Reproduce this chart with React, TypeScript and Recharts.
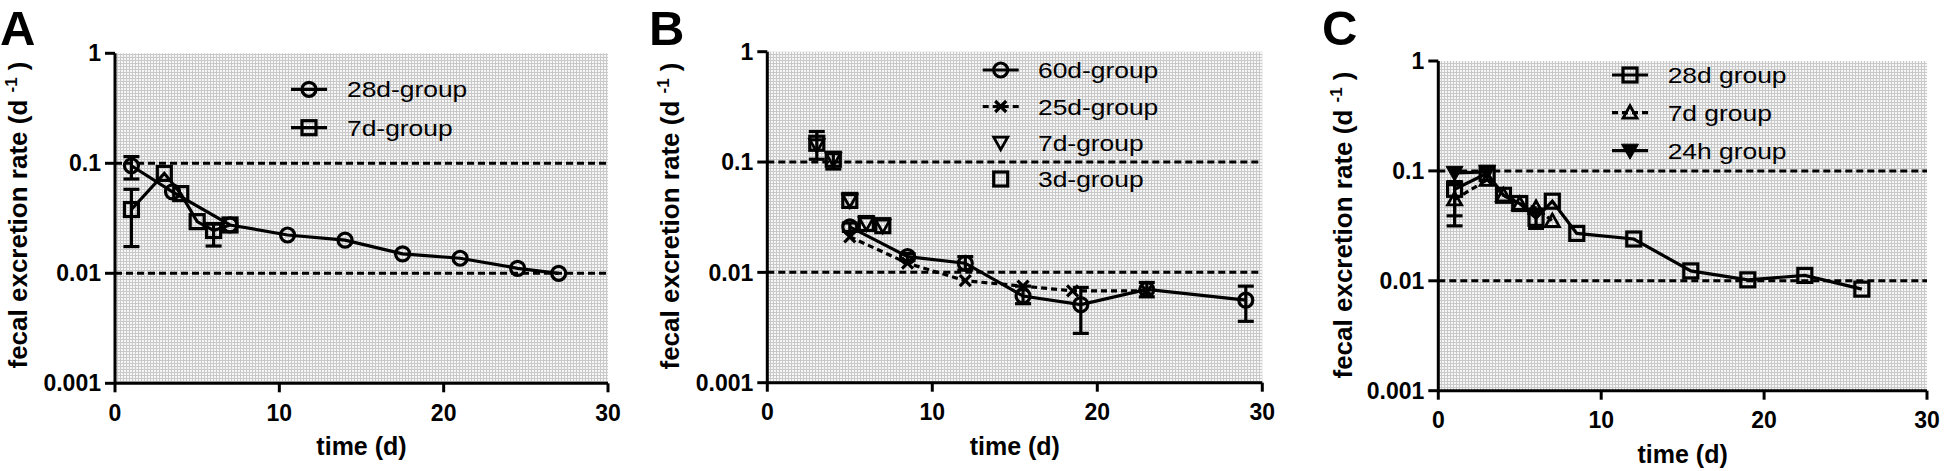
import React from 'react';
import { LineChart, Line, XAxis, YAxis, CartesianGrid, ReferenceLine, ErrorBar, Legend } from 'recharts';

const FONT = '"Liberation Sans", Arial, Helvetica, sans-serif';

// ---------- shared axis values ----------
const xTicks = [0, 10, 20, 30];
const yTicks = [0.001, 0.01, 0.1, 1];
const refLevels = [0.1, 0.01];

// ---------- Panel A ----------
const A_28d_time = [1, 3.5, 7, 10.5, 14, 17.5, 21, 24.5, 27];
const A_28d_rate = [0.095, 0.055, 0.0275, 0.0223, 0.02, 0.015, 0.0137, 0.0111, 0.01];
const A_28d_low = [0.072, null, null, null, null, null, null, null, null];
const A_28d_high = [0.115, null, null, null, null, null, null, null, null];

const A_7d_time = [1, 3, 4, 5, 6, 7];
const A_7d_rate = [0.038, 0.081, 0.053, 0.0295, 0.0245, 0.0275];
const A_7d_low = [0.0175, null, null, null, 0.0177, null];
const A_7d_high = [0.058, null, null, null, 0.028, null];

// ---------- Panel B ----------
const B_60d_time = [5, 8.5, 12, 15.5, 19, 23, 29];
const B_60d_rate = [0.0258, 0.0139, 0.0121, 0.0061, 0.0051, 0.007, 0.0056];
const B_60d_low = [0.0235, 0.0128, 0.0105, 0.0052, 0.0028, 0.006, 0.0036];
const B_60d_high = [0.028, 0.0148, 0.0139, 0.0075, 0.0073, 0.0081, 0.0075];

const B_25d_time = [5, 8.5, 12, 15.5, 18.5, 23];
const B_25d_rate = [0.021, 0.0121, 0.0084, 0.0075, 0.0068, 0.0068];

const B_7d_time = [3, 4, 5, 6, 7];
const B_7d_rate = [0.142, 0.106, 0.045, 0.0278, 0.0265];

const B_3d_time = [3, 4, 5, 6, 7];
const B_3d_rate = [0.148, 0.106, 0.0449, 0.0277, 0.0265];
const B_3d_low = [0.106, 0.0864, null, null, null];
const B_3d_high = [0.189, 0.12, null, null, null];

// ---------- Panel C ----------
const C_28d_time = [1, 3, 4, 5, 6, 7, 8.5, 12, 15.5, 19, 22.5, 26];
const C_28d_rate = [0.068, 0.095, 0.06, 0.0505, 0.037, 0.053, 0.027, 0.024, 0.0123, 0.0102, 0.0112, 0.0084];
const C_28d_low = [0.039, null, null, null, 0.03, null, null, null, null, null, null, null];
const C_28d_high = [0.08, null, null, null, 0.045, null, null, null, null, null, null, null];

const C_7d_time = [1, 3, 4, 5, 6, 7];
const C_7d_rate = [0.055, 0.083, 0.06, 0.05, 0.046, 0.035];
const C_7d_low = [0.0316, null, null, null, null, null];
const C_7d_high = [0.075, null, null, null, null, null];

const C_24h_time = [1, 3];
const C_24h_rate = [0.096, 0.098];

// ---------- helpers ----------
type Pt = { t: number; v: number; err?: [number, number] };

function build(times: number[], rates: number[], lows?: (number | null)[], highs?: (number | null)[]): Pt[] {
  return times.map((t, i) => {
    const v = rates[i];
    const lo = lows ? lows[i] : null;
    const hi = highs ? highs[i] : null;
    const p: Pt = { t, v };
    if (lo != null && hi != null) p.err = [v - lo, hi - v];
    return p;
  });
}

type MarkerKind = 'circle' | 'square' | 'cross' | 'triDownOpen' | 'triUpOpen' | 'triDownFilled';

const SW = 3.2;

function drawMarker(kind: MarkerKind, cx: number, cy: number, key?: string | number) {
  const s = '#000';
  switch (kind) {
    case 'circle':
      return <circle key={key} cx={cx} cy={cy} r={7} fill="none" stroke={s} strokeWidth={SW} />;
    case 'square':
      return <rect key={key} x={cx - 7} y={cy - 7} width={14} height={14} fill="none" stroke={s} strokeWidth={SW} />;
    case 'cross':
      return (
        <path key={key} d={`M${cx - 5.5},${cy - 5.5}L${cx + 5.5},${cy + 5.5}M${cx + 5.5},${cy - 5.5}L${cx - 5.5},${cy + 5.5}`} stroke={s} strokeWidth={SW} fill="none" />
      );
    case 'triDownOpen':
      return <path key={key} d={`M${cx - 7},${cy - 5.5}L${cx + 7},${cy - 5.5}L${cx},${cy + 7}Z`} fill="none" stroke={s} strokeWidth={2.8} />;
    case 'triUpOpen':
      return <path key={key} d={`M${cx - 7},${cy + 5.5}L${cx + 7},${cy + 5.5}L${cx},${cy - 7}Z`} fill="none" stroke={s} strokeWidth={2.8} />;
    case 'triDownFilled':
      return <path key={key} d={`M${cx - 8.5},${cy - 6.5}L${cx + 8.5},${cy - 6.5}L${cx},${cy + 8.5}Z`} fill={s} stroke={s} strokeWidth={1} />;
  }
  return null;
}

const dotFor = (kind: MarkerKind) => (props: any) => {
  const { cx, cy, index } = props;
  if (cx == null || cy == null || isNaN(cx) || isNaN(cy)) return <g key={`n${index}`} />;
  return drawMarker(kind, cx, cy, `m${index}`);
};

type Series = {
  name: string;
  data: Pt[];
  marker: MarkerKind;
  line: boolean;
  dashed?: boolean;
  hasErr?: boolean;
};

type PanelProps = {
  letter: string;
  left: number;
  width: number;
  plotLeft: number; // relative to chart
  plotRight: number;
  plotTop: number;
  plotBottom: number;
  letterX: number;
  letterY: number;
  yTitleX: number;
  yTitleY: number;
  series: Series[];
  legendSymX: number; // center of symbol, relative
  legendTextX: number;
  legendRows: number[];
};

const CH = 471;

function YTitle(props: any) {
  const { tx, ty } = props;
  return (
    <text
      transform={`translate(${tx},${ty}) rotate(-90)`}
      textAnchor="middle"
      fontFamily={FONT}
      fontWeight="bold"
      fontSize={26}
      fill="#000"
    >
      fecal excretion rate (d <tspan dy={-10} fontSize={17}>-1</tspan>
      <tspan dy={10}> )</tspan>
    </text>
  );
}

function XTitle(props: any) {
  const { tx, ty } = props;
  return (
    <text x={tx} y={ty} textAnchor="middle" fontFamily={FONT} fontWeight="bold" fontSize={25} fill="#000">
      time (d)
    </text>
  );
}

function Panel(p: PanelProps) {
  const margin = { top: p.plotTop, right: p.width - p.plotRight, bottom: 0, left: 0 };
  const xAxisH = CH - p.plotBottom;
  const yAxisW = p.plotLeft;
  const patId = `bg${p.letter}`;
  const plotCx = (p.plotLeft + p.plotRight) / 2;

  const legendContent = () => (
    <svg width={p.width} height={CH} style={{ position: 'absolute', left: 0, top: 0, overflow: 'visible' }}>
      {p.series.map((s, i) => {
        const y = p.legendRows[i];
        return (
          <g key={s.name}>
            {s.line && (
              <line
                x1={p.legendSymX - 18}
                x2={p.legendSymX + 18}
                y1={y}
                y2={y}
                stroke="#000"
                strokeWidth={SW}
                strokeDasharray={s.dashed ? '6 4' : undefined}
              />
            )}
            {drawMarker(s.marker, p.legendSymX, y)}
            <text
              transform={`translate(${p.legendTextX},${y + 8}) scale(1.2,1)`}
              fontFamily={FONT}
              fontSize={22}
              fill="#000"
            >
              {s.name}
            </text>
          </g>
        );
      })}
    </svg>
  );

  return (
    <div style={{ position: 'absolute', left: p.left, top: 0, width: p.width, height: CH }}>
      <LineChart width={p.width} height={CH} margin={margin}>
        <defs>
          <pattern id={patId} width={3} height={3} patternUnits="userSpaceOnUse">
            <rect width={3} height={3} fill="#f6f6f6" />
            <rect width={3} height={1} fill="#c9c9c9" />
            <rect width={1} height={3} fill="#c9c9c9" />
          </pattern>
        </defs>
        <CartesianGrid horizontal={false} vertical={false} fill={`url(#${patId})`} stroke="none" />
        <XAxis
          type="number"
          dataKey="t"
          domain={[0, 30]}
          ticks={xTicks}
          allowDataOverflow
          height={xAxisH}
          axisLine={{ stroke: '#000', strokeWidth: 3 }}
          tickLine={{ stroke: '#000', strokeWidth: 3 }}
          tickSize={9}
          tickMargin={12}
          tick={{ fill: '#000', fontFamily: FONT, fontWeight: 'bold', fontSize: 23 }}
          label={<XTitle tx={plotCx} ty={p.plotBottom + 72} />}
        />
        <YAxis
          type="number"
          scale="log"
          domain={[0.001, 1]}
          ticks={yTicks}
          allowDataOverflow
          width={yAxisW}
          axisLine={{ stroke: '#000', strokeWidth: 3 }}
          tickLine={{ stroke: '#000', strokeWidth: 3 }}
          tickSize={10}
          tickMargin={4}
          tickFormatter={(v: number) => String(v)}
          tick={{ fill: '#000', fontFamily: FONT, fontWeight: 'bold', fontSize: 23 }}
          label={<YTitle tx={p.yTitleX} ty={p.yTitleY} />}
        />
        {refLevels.map((r) => (
          <ReferenceLine key={r} y={r} stroke="#000" strokeWidth={3} strokeDasharray="7 4" ifOverflow="hidden" />
        ))}
        {p.series.map((s) => (
          <Line
            key={s.name}
            data={s.data}
            dataKey="v"
            name={s.name}
            type="linear"
            stroke={s.line ? '#000' : 'none'}
            strokeWidth={SW}
            strokeDasharray={s.dashed ? '6 4' : undefined}
            dot={dotFor(s.marker)}
            activeDot={false}
            isAnimationActive={false}
            legendType="none"
          >
            {s.hasErr && <ErrorBar dataKey="err" width={8} strokeWidth={SW} stroke="#000" direction="y" isAnimationActive={false} />}
          </Line>
        ))}
        <Legend
          layout="horizontal"
          verticalAlign="middle"
          align="center"
          wrapperStyle={{ position: 'absolute', left: 0, top: 0, width: p.width, height: CH, pointerEvents: 'none' }}
          content={legendContent}
        />
      </LineChart>
      <svg width={p.width} height={CH} style={{ position: 'absolute', left: 0, top: 0, pointerEvents: 'none' }}>
        <text x={p.letterX} y={p.letterY} fontFamily={FONT} fontWeight="bold" fontSize={49} fill="#000">
          {p.letter}
        </text>
      </svg>
    </div>
  );
}

const seriesA: Series[] = [
  { name: '28d-group', data: build(A_28d_time, A_28d_rate, A_28d_low, A_28d_high), marker: 'circle', line: true, hasErr: true },
  { name: '7d-group', data: build(A_7d_time, A_7d_rate, A_7d_low, A_7d_high), marker: 'square', line: true, hasErr: true },
];

const seriesB: Series[] = [
  { name: '60d-group', data: build(B_60d_time, B_60d_rate, B_60d_low, B_60d_high), marker: 'circle', line: true, hasErr: true },
  { name: '25d-group', data: build(B_25d_time, B_25d_rate), marker: 'cross', line: true, dashed: true },
  { name: '7d-group', data: build(B_7d_time, B_7d_rate), marker: 'triDownOpen', line: false },
  { name: '3d-group', data: build(B_3d_time, B_3d_rate, B_3d_low, B_3d_high), marker: 'square', line: false, hasErr: true },
];

const seriesC: Series[] = [
  { name: '28d group', data: build(C_28d_time, C_28d_rate, C_28d_low, C_28d_high), marker: 'square', line: true, hasErr: true },
  { name: '7d group', data: build(C_7d_time, C_7d_rate, C_7d_low, C_7d_high), marker: 'triUpOpen', line: true, dashed: true, hasErr: true },
  { name: '24h group', data: build(C_24h_time, C_24h_rate), marker: 'triDownFilled', line: true },
];

export default function App() {
  return (
    <div style={{ position: 'absolute', left: 0, top: 0, width: 1946, height: 471, background: '#fff', overflow: 'hidden' }}>
      <Panel
        letter="A"
        left={0}
        width={650}
        plotLeft={115}
        plotRight={608}
        plotTop={53.3}
        plotBottom={383.3}
        letterX={0}
        letterY={44.5}
        yTitleX={27}
        yTitleY={215}
        series={seriesA}
        legendSymX={309}
        legendTextX={347}
        legendRows={[89.3, 127.7]}
      />
      <Panel
        letter="B"
        left={650}
        width={650}
        plotLeft={117.3}
        plotRight={612.3}
        plotTop={51.7}
        plotBottom={382.7}
        letterX={-1}
        letterY={44.5}
        yTitleX={29}
        yTitleY={216}
        series={seriesB}
        legendSymX={350.7}
        legendTextX={388}
        legendRows={[70, 106.5, 142.7, 179]}
      />
      <Panel
        letter="C"
        left={1300}
        width={646}
        plotLeft={138.3}
        plotRight={627}
        plotTop={61}
        plotBottom={390.7}
        letterX={22}
        letterY={45}
        yTitleX={52}
        yTitleY={225}
        series={seriesC}
        legendSymX={330}
        legendTextX={367.7}
        legendRows={[75, 112.7, 150.7]}
      />
    </div>
  );
}
